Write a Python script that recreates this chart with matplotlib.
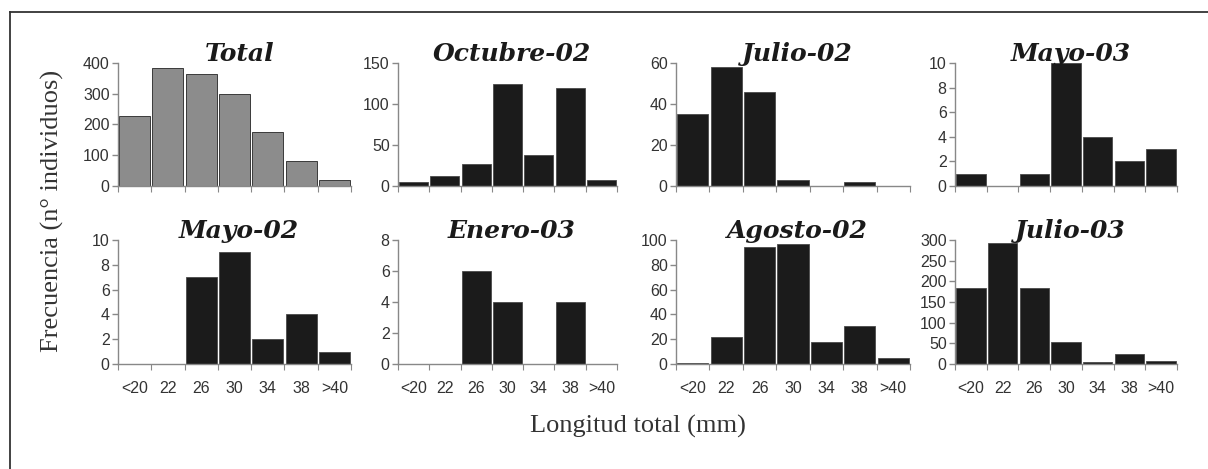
import matplotlib
matplotlib.use("Agg")
import matplotlib.pyplot as plt
from matplotlib.lines import Line2D
import numpy as np

# size classes (mm)
clases = ['<20', '22', '26', '30', '34', '38', '>40']

titulos = ['Total', 'Octubre-02', 'Julio-02', 'Mayo-03',
           'Mayo-02', 'Enero-03', 'Agosto-02', 'Julio-03']

total = [227, 384, 364, 300, 175, 81, 21]
octubre_02 = [5, 12, 27, 124, 38, 119, 7]
julio_02 = [35, 58, 46, 3, 0, 2, 0]
mayo_03 = [1, 0, 1, 10, 4, 2, 3]
mayo_02 = [0, 0, 7, 9, 2, 4, 1]
enero_03 = [0, 0, 6, 4, 0, 4, 0]
agosto_02 = [1, 22, 94, 97, 18, 31, 5]
julio_03 = [185, 293, 185, 53, 4, 24, 7]

series = [total, octubre_02, julio_02, mayo_03,
          mayo_02, enero_03, agosto_02, julio_03]
ymax = [400, 150, 60, 10, 10, 8, 100, 300]
ystep = [100, 50, 20, 2, 2, 2, 20, 50]

W, H = 1208, 469
fig = plt.figure(figsize=(W / 100, H / 100), dpi=100)

cols = [(118, 351), (398, 617), (676, 910), (955, 1177)]
rows = [(63, 186), (240, 364)]

for k in range(8):
    r, c = divmod(k, 4)
    x0, x1 = cols[c]
    y0, y1 = rows[r]
    ax = fig.add_axes([x0 / W, 1 - y1 / H, (x1 - x0) / W, (y1 - y0) / H])
    x = np.arange(len(clases))
    if k == 0:
        ax.bar(x, series[k], width=0.93, color='#8c8c8c',
               edgecolor='#3a3a3a', linewidth=0.7)
    else:
        ax.bar(x, series[k], width=0.93, color='#1b1b1b',
               edgecolor='#4a4a4a', linewidth=0.6)
    ax.set_xlim(-0.5, 6.5)
    ax.set_ylim(0, ymax[k])
    ax.set_yticks(np.arange(0, ymax[k] + 0.1, ystep[k]))
    # tick marks between classes, labels at class centres
    ax.set_xticks(np.arange(-0.5, 7, 1))
    ax.set_xticklabels([])
    ax.set_xticks(x, minor=True)
    if r == 1:
        ax.set_xticklabels(clases, minor=True)
    ax.tick_params(axis='x', which='minor', length=0, pad=12,
                   labelsize=11.5, labelcolor='#333333')
    ax.tick_params(axis='x', which='major', length=4, color='#888888',
                   direction='out')
    ax.tick_params(axis='y', length=4, color='#888888', width=1,
                   labelsize=11.5, labelcolor='#333333', pad=2)
    for lado in ['top', 'right']:
        ax.spines[lado].set_visible(False)
    for lado in ['left', 'bottom']:
        ax.spines[lado].set_color('#888888')
        ax.spines[lado].set_linewidth(1.0)
    for t in ax.get_xticklabels(minor=True) + ax.get_yticklabels():
        t.set_fontfamily('Liberation Sans')
    ax.text(0.52, 1.02, titulos[k], transform=ax.transAxes, ha='center',
            va='baseline', fontsize=18, fontweight='bold', fontstyle='italic',
            family='DejaVu Serif', color='#1a1a1a')

fig.text(52 / W, 1 - 211 / H, 'Frecuencia (n° individuos)', rotation=90,
         ha='center', va='center', fontsize=19, family='Liberation Serif',
         color='#333333')
fig.text(638 / W, 1 - 426 / H, 'Longitud total (mm)', ha='center',
         va='center', fontsize=19, family='Liberation Serif', color='#333333')

# frame around the figure (top and left edges only)
fig.add_artist(Line2D([10 / W, 1], [1 - 12 / H, 1 - 12 / H],
                      transform=fig.transFigure, color='#333333', lw=1.3))
fig.add_artist(Line2D([10 / W, 10 / W], [0, 1 - 12 / H],
                      transform=fig.transFigure, color='#333333', lw=1.3))

fig.savefig('out.png', dpi=100)
